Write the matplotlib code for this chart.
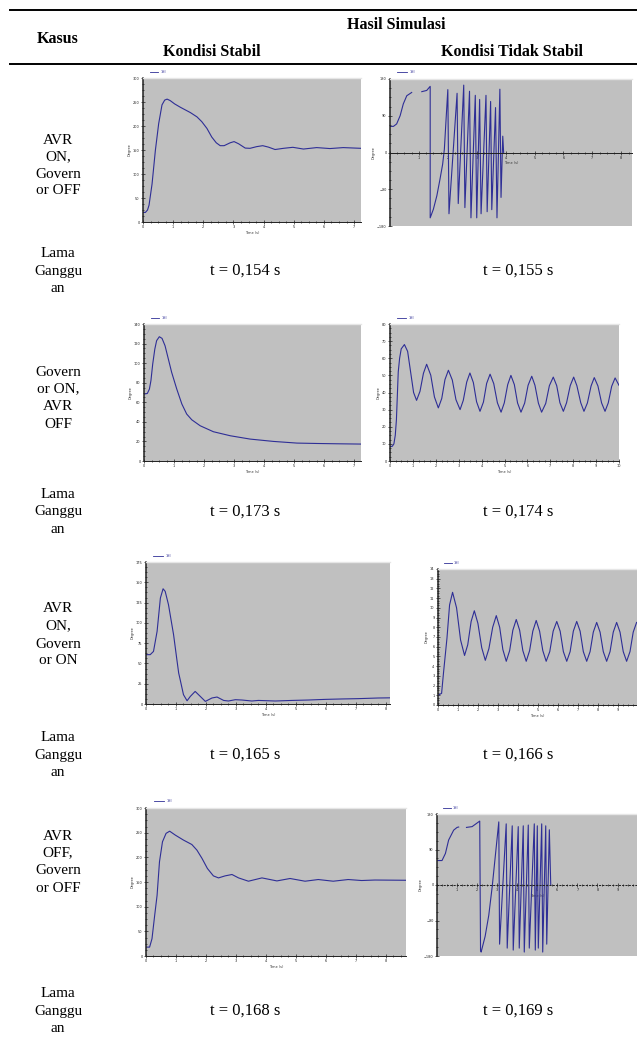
import numpy as np
import matplotlib
matplotlib.use("Agg")
import matplotlib.pyplot as plt
from matplotlib.ticker import MultipleLocator

nan = np.nan

# ---------------- text content ----------------
header_case = "Kasus"
header_result = "Hasil Simulasi"
header_stable = "Kondisi Stabil"
header_unstable = "Kondisi Tidak Stabil"
case_labels = [["AVR", "ON,", "Govern", "or OFF"],
               ["Govern", "or ON,", "AVR", "OFF"],
               ["AVR", "ON,", "Govern", "or ON"],
               ["AVR", "OFF,", "Govern", "or OFF"]]
duration_label = ["Lama", "Ganggu", "an"]
t_stable = ["t = 0,154 s", "t = 0,173 s", "t = 0,165 s", "t = 0,168 s"]
t_unstable = ["t = 0,155 s", "t = 0,174 s", "t = 0,166 s", "t = 0,169 s"]

# ---------------- data ----------------
# Row 1 : AVR ON, Governor OFF
s1_t = [0, 0.08, 0.15, 0.2, 0.3, 0.41, 0.52, 0.63, 0.72, 0.8, 0.9, 1.05, 1.24, 1.57,
        1.79, 1.95, 2.12, 2.28, 2.43, 2.56, 2.69, 2.89, 3.02, 3.17, 3.39, 3.55, 3.77,
        3.97, 4.16, 4.38, 4.66, 4.97, 5.32, 5.76, 6.2, 6.64, 7.23]
s1_y = [20, 20, 25, 35, 79, 149, 205, 244, 254, 256, 253, 246, 239, 228,
        219, 209, 195, 177, 165, 159, 159, 165, 167.5, 163, 154, 153.5, 157,
        159, 156, 151, 153.5, 155.6, 152, 155, 153, 155, 153.5]

u1_t = [0.0, 0.12, 0.23, 0.35, 0.46, 0.58, 0.75, nan, 1.1, 1.27, 1.39, 1.39, 1.5,
        1.62, 1.73, 1.82, 1.88, 1.94, 2.0, 2.04, 2.32, 2.36, 2.55, 2.59, 2.75, 2.80,
        2.95, 3.0, 3.10, 3.15, 3.32, 3.36, 3.48, 3.52, 3.65, 3.70, 3.80, 3.84, 3.90, 3.93]
u1_y = [64, 64, 70, 90, 119, 139, 147, nan, 149, 152, 162, -160, -139,
        -106, -65, -29, 8, 82, 154, -150, 145, -125, 165, -135, 150, -160,
        140, -160, 130, -150, 140, -145, 125, -140, 110, -160, 155, -110, 40, 0]

# Row 2 : Governor ON, AVR OFF
s2_t = [0, 0.11, 0.18, 0.23, 0.29, 0.36, 0.42, 0.51, 0.6, 0.7, 0.81, 0.92, 1.09,
        1.26, 1.42, 1.59, 1.87, 2.31, 2.87, 3.53, 4.31, 5.09, 5.76, 6.42, 7.22]
s2_y = [68.4, 69, 73.5, 82, 99.1, 114.4, 123, 127, 125.3, 117.8, 104.2, 90.6, 73.5,
        58.2, 48, 42.1, 36, 29.9, 25.8, 22.4, 20, 18.3, 17.9, 17.6, 17.3]

u2_t = [0.00, 0.10, 0.17, 0.23, 0.28, 0.32, 0.36, 0.42, 0.49, 0.63, 0.77, 0.90, 1.03,
        1.16, 1.31, 1.46, 1.60, 1.78, 1.94, 2.11, 2.26, 2.40, 2.55, 2.72, 2.88, 3.06,
        3.20, 3.35, 3.49, 3.64, 3.78, 3.93, 4.08, 4.22, 4.37, 4.53, 4.69, 4.85, 4.99,
        5.14, 5.28, 5.43, 5.57, 5.72, 5.88, 6.03, 6.19, 6.33, 6.48, 6.62, 6.80, 6.96,
        7.13, 7.28, 7.42, 7.57, 7.71, 7.87, 8.02, 8.16, 8.33, 8.47, 8.62, 8.78, 8.92,
        9.08, 9.24, 9.39, 9.53, 9.68, 9.83, 10.0]
u2_y = [8.4, 8.6, 10, 15, 24, 38, 52, 60, 65.5, 68, 64, 52, 40,
        35.4, 40.7, 51.2, 56.5, 50.1, 37.4, 31, 36.5, 47.5, 53, 47.3, 35.8, 30,
        35.4, 46.1, 51.4, 45.8, 34.6, 29, 34.4, 45.3, 50.7, 45.2, 34.0, 28.5, 33.9,
        44.6, 50, 44.6, 33.9, 28.5, 33.8, 44.2, 49.5, 44.2, 33.8, 28.5, 33.6, 44.0,
        49.0, 44.0, 34.0, 29.0, 34.0, 44.0, 49.0, 44.0, 34.0, 29.0, 33.9, 43.8, 48.7,
        43.8, 33.9, 29.0, 33.9, 43.6, 48.5, 44.2]

# Row 3 : AVR ON, Governor ON
s3_t = [0.00, 0.14, 0.25, 0.37, 0.48, 0.57, 0.64, 0.75, 0.92, 1.03, 1.09, 1.14, 1.25,
        1.37, 1.48, 1.64, 1.81, 1.98, 2.2, 2.37, 2.59, 2.75, 2.98, 3.2, 3.53, 3.75,
        4.31, 4.87, 5.41, 5.98, 6.53, 7.08, 7.75, 8.14]
s3_y = [60.8, 60.8, 64.8, 89.5, 130.6, 142, 138.8, 122.4, 85.4, 54.6, 38.2, 30, 11.5,
        4, 9.4, 15.5, 9.4, 3.2, 7.4, 8.6, 4.4, 3.7, 5.3, 4.9, 3.7, 4.4,
        3.7, 4.4, 4.9, 5.7, 6.2, 6.6, 7.4, 7.6]

u3_t = [0.00, 0.18, 0.28, 0.45, 0.58, 0.73, 0.93, 1.13, 1.33, 1.49, 1.66, 1.82, 2.0,
        2.19, 2.37, 2.55, 2.74, 2.92, 3.09, 3.25, 3.42, 3.59, 3.75, 3.92, 4.09, 4.25,
        4.42, 4.59, 4.75, 4.92, 5.09, 5.25, 5.42, 5.6, 5.77, 5.95, 6.12, 6.28, 6.45,
        6.62, 6.78, 6.95, 7.12, 7.28, 7.45, 7.62, 7.78, 7.95, 8.12, 8.28, 8.45, 8.62,
        8.78, 8.95, 9.12, 9.28, 9.45, 9.62, 9.78, 9.95]
u3_y = [1.0, 1.2, 3.4, 6.9, 10.3, 11.6, 10.0, 6.7, 5.1, 6.2, 8.6, 9.7, 8.4,
        5.9, 4.6, 5.8, 8.0, 9.2, 8.0, 5.7, 4.5, 5.6, 7.7, 8.8, 7.7, 5.6,
        4.5, 5.6, 7.6, 8.7, 7.6, 5.6, 4.5, 5.5, 7.6, 8.6, 7.6, 5.5, 4.5,
        5.5, 7.6, 8.6, 7.6, 5.5, 4.5, 5.5, 7.5, 8.5, 7.5, 5.5, 4.5, 5.5,
        7.5, 8.5, 7.5, 5.5, 4.5, 5.5, 7.5, 8.5]

# Row 4 : AVR OFF, Governor OFF
s4_t = [0, 0.12, 0.2, 0.29, 0.37, 0.45, 0.55, 0.67, 0.79, 0.98, 1.25, 1.53, 1.7, 1.87,
        2.05, 2.25, 2.42, 2.64, 2.87, 3.09, 3.42, 3.87, 4.37, 4.81, 5.31, 5.75, 6.25,
        6.75, 7.2, 7.64, 8.68]
s4_y = [18, 18, 35, 82.5, 123, 191, 231.5, 248.6, 253, 245, 235, 226, 214.6, 197.8,
        177.4, 162.4, 158.3, 162.4, 165.2, 158.3, 151.6, 158.3, 152.2, 157.1, 151.6, 155, 151.6,
        155, 153, 154, 153.5]

u4_t = [0.03, 0.25, 0.42, 0.58, 0.83, 1.0, 1.08, nan, 1.47, 1.75, 2.13, 2.17, 2.2, 2.4,
        2.58, 2.75, 2.9, 3.08, 3.12, 3.45, 3.5, 3.75, 3.8, 4.05, 4.1, 4.3, 4.35, 4.55,
        4.6, 4.85, 4.9, 5.0, 5.05, 5.22, 5.27, 5.42, 5.47, 5.6, 5.67]
u4_y = [62, 62, 80, 114, 139, 146, 147, nan, 146, 148, 162, -165, -170, -130,
        -77, -5, 70, 160, -150, 155, -160, 150, -165, 148, -160, 150, -170, 152,
        -160, 155, -165, 150, -160, 155, -170, 150, -150, 140, 0]

# ---------------- figure ----------------
W, H = 637, 1041
fig = plt.figure(figsize=(W / 100, H / 100), dpi=100)
fig.patch.set_facecolor("white")

SERIF = ["Liberation Serif", "DejaVu Serif"]
LINE = "#2e2e96"
GRAY = "#c0c0c0"
FS = 11


def fx(x):
    return x / W


def fy(y):
    return 1 - y / H


def rect(x0, y0, x1, y1):
    return [x0 / W, 1 - y1 / H, (x1 - x0) / W, (y1 - y0) / H]


def ftext(x, y, s, bold=False, size=FS):
    fig.text(fx(x), fy(y), s, ha="center", va="center", fontsize=size,
             family=SERIF, fontweight="bold" if bold else "normal", color="black")


# header
fig.add_artist(plt.Line2D([fx(10), fx(637)], [fy(10), fy(10)], color="black", lw=1.4))
fig.add_artist(plt.Line2D([fx(10), fx(637)], [fy(63.5), fy(63.5)], color="black", lw=1.4))
ftext(58, 39, header_case, bold=True, size=11.5)
ftext(396, 25, header_result, bold=True, size=11.5)
ftext(212, 52, header_stable, bold=True, size=11.5)
ftext(512, 52, header_unstable, bold=True, size=11.5)

case_y = [[140, 157, 174, 191], [372, 389, 407, 424], [609, 626, 644, 661], [836, 853, 871, 888]]
t_line_y = [271, 512, 755, 1011]
for r in range(4):
    for s, yy in zip(case_labels[r], case_y[r]):
        ftext(58, yy, s)
    for k, s in enumerate(duration_label):
        ftext(58, t_line_y[r] + (k - 1) * 17.5, s)
    ftext(245, t_line_y[r], t_stable[r], size=12)
    ftext(518, t_line_y[r], t_unstable[r], size=12)


def panel(box, t, y, xlim, ylim, ymajor, xmajor=1.0, zero=None, legend="1SI"):
    ax = fig.add_axes(rect(*box))
    ax.set_facecolor(GRAY)
    ax.plot(t, y, color=LINE, lw=0.8, solid_joinstyle="round")
    ax.set_xlim(*xlim)
    ax.set_ylim(*ylim)
    ax.spines["right"].set_visible(False)
    ax.spines["top"].set_color("#e6e6e6")
    ax.spines["top"].set_linewidth(1.0)
    ax.spines["left"].set_color("#202020")
    ax.spines["left"].set_linewidth(1.1)
    ax.spines["bottom"].set_color("#202020")
    ax.spines["bottom"].set_linewidth(0.7)
    if zero is not None:
        ax.spines["bottom"].set_position(("data", 0))
        if zero == "dotted":
            ax.spines["bottom"].set_linestyle((0, (1.2, 2.2)))
    ax.yaxis.set_major_locator(MultipleLocator(ymajor))
    ax.yaxis.set_minor_locator(MultipleLocator(ymajor / 4))
    ax.xaxis.set_major_locator(MultipleLocator(xmajor))
    ax.xaxis.set_minor_locator(MultipleLocator(xmajor / 4))
    ax.tick_params(which="both", direction="inout", colors="#202020", width=0.5,
                   labelsize=2.5, pad=1)
    ax.tick_params(which="major", length=3)
    ax.tick_params(which="minor", length=1.6)
    ax.set_ylabel("Degree", fontsize=2.5, labelpad=1, color="#333333")
    ax.set_xlabel("Time (s)", fontsize=2.5, labelpad=1, color="#333333")
    ax.plot([0.03, 0.07], [1.045, 1.045], transform=ax.transAxes, color=LINE,
            lw=0.6, clip_on=False)
    ax.text(0.08, 1.045, legend, transform=ax.transAxes, fontsize=2.5,
            color=LINE, va="center", ha="left")
    return ax


panel((143, 78, 361, 222), s1_t, s1_y, (0, 7.23), (0, 300), 50)
panel((390, 79, 632, 226), u1_t, u1_y, (0, 8.37), (-180, 180), 90, zero="solid")
panel((144, 324, 361, 461), s2_t, s2_y, (0, 7.22), (0, 140), 20)
panel((390, 324, 619, 461), u2_t, u2_y, (0, 10), (0, 80), 10)
panel((146, 562, 390, 704), s3_t, s3_y, (0, 8.14), (0, 175), 25)
panel((438, 569, 637, 705), u3_t, u3_y, (0, 9.97), (0, 14), 1)
panel((146, 808, 406, 956), s4_t, s4_y, (0, 8.68), (0, 300), 50)
panel((437, 814, 637, 956), u4_t, u4_y, (0, 9.97), (-180, 180), 90, zero="dotted")

fig.savefig("out.png", dpi=100, facecolor="white")
